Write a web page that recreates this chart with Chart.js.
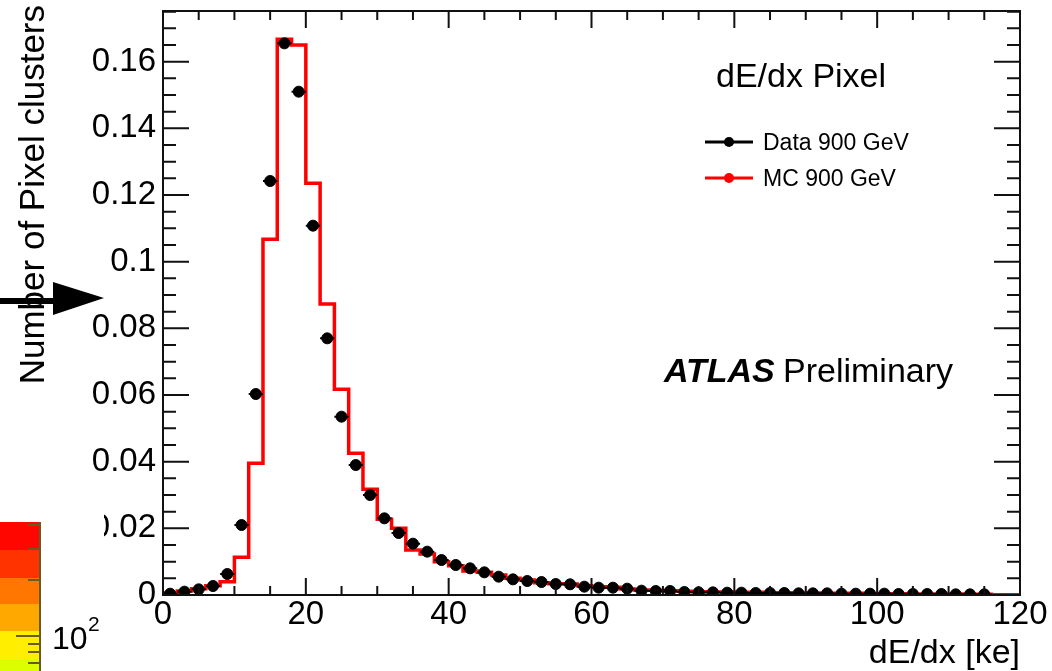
<!DOCTYPE html>
<html>
<head>
<meta charset="utf-8">
<title>dE/dx Pixel</title>
<script src="https://cdn.jsdelivr.net/npm/chart.js@4/dist/chart.umd.min.js"></script>
<style>
    html, body { margin: 0; padding: 0; background: #fff; }
    #wrap { width: 1052px; height: 671px; }
</style>
</head>
<body>
<div id="wrap"><canvas id="chart" width="1052" height="671"></canvas></div>
<script>
const FONT = "'Liberation Sans', Arial, Helvetica, sans-serif";

// histogram binning in ke
const binWidth = 2;

// normalised cluster counts per 2 ke bin, starting at 0 ke
const dataValues = [
    0.0004, 0.0010, 0.0017, 0.0027, 0.0063, 0.0210, 0.0603, 0.1242, 0.1655, 0.1510,
    0.1108, 0.0770, 0.0535, 0.0390, 0.0300, 0.0230, 0.0186, 0.0154, 0.0130, 0.0105,
    0.0090, 0.0080, 0.0068, 0.0055, 0.0047, 0.0042, 0.0039, 0.0033, 0.0032, 0.0025,
    0.0022, 0.0022, 0.0019, 0.0013, 0.0012, 0.0012, 0.0009, 0.0008, 0.0008, 0.0007,
    0.0007, 0.0006, 0.0006, 0.0006, 0.0005, 0.0005, 0.0005, 0.0004, 0.0004, 0.0004,
    0.0004, 0.0003, 0.0003, 0.0003, 0.0003, 0.0002, 0.0002, 0.0002
];

const mcValues = [
    0.0006, 0.0012, 0.0019, 0.0028, 0.0040, 0.0113, 0.0395, 0.1067, 0.1667, 0.1650,
    0.1235, 0.0873, 0.0617, 0.0425, 0.0317, 0.0227, 0.0200, 0.0135, 0.0123, 0.0100,
    0.0088, 0.0072, 0.0068, 0.0060, 0.0050, 0.0045, 0.0037, 0.0034, 0.0033, 0.0028,
    0.0025, 0.0023, 0.0018, 0.0015, 0.0014, 0.0013, 0.0011, 0.0010, 0.0009, 0.0009,
    0.0008, 0.0008, 0.0007, 0.0007, 0.0006, 0.0006, 0.0005, 0.0005, 0.0005, 0.0004,
    0.0004, 0.0004, 0.0003, 0.0003, 0.0003, 0.0003, 0.0002, 0.0002, 0.0001, 0.0001
];

const xTicks = [0, 20, 40, 60, 80, 100, 120];
const xTickLabels = ['0', '20', '40', '60', '80', '100', '120'];
const yTicks = [0, 0.02, 0.04, 0.06, 0.08, 0.1, 0.12, 0.14, 0.16];
const yTickLabels = ['0', '0.02', '0.04', '0.06', '0.08', '0.1', '0.12', '0.14', '0.16'];

const xRange = [0, 120];
const yRange = [0, 0.1752];

// data points sit at bin centres
const dataPoints = dataValues.map((v, i) => ({ x: (i + 0.5) * binWidth, y: v }));

// step outline: rise from zero at the first edge, one point per bin low edge, close at the last edge
const mcPoints = [{ x: 0, y: 0 }]
    .concat(mcValues.map((v, i) => ({ x: i * binWidth, y: v })))
    .concat([{ x: mcValues.length * binWidth, y: 0 }]);

// horizontal error bars (bin width) under the data markers
const errorBars = {
    id: 'errorBars',
    beforeDatasetDraw(chart, args) {
        if (args.index !== 0) return;
        const { ctx, scales: { x, y } } = chart;
        ctx.save();
        ctx.strokeStyle = '#000';
        ctx.lineWidth = 2;
        ctx.beginPath();
        for (const p of chart.data.datasets[0].data) {
            const py = y.getPixelForValue(p.y);
            ctx.moveTo(x.getPixelForValue(p.x - binWidth / 2), py);
            ctx.lineTo(x.getPixelForValue(p.x + binWidth / 2), py);
        }
        ctx.stroke();
        ctx.restore();
    }
};

// ROOT style frame with inward ticks on all four sides
const frame = {
    id: 'frame',
    beforeDraw(chart) {
        const ctx = chart.ctx;
        ctx.save();
        ctx.fillStyle = '#fff';
        ctx.fillRect(0, 0, chart.width, chart.height);
        ctx.restore();
    },
    afterDatasetsDraw(chart) {
        const { ctx, chartArea: a, scales: { x, y } } = chart;
        const xMajor = 17, xMinor = 9, yMajor = 26, yMinor = 13;
        ctx.save();
        ctx.strokeStyle = '#111';
        ctx.lineWidth = 2;
        ctx.beginPath();
        for (let v = xRange[0]; v <= xRange[1]; v += 5) {
            const px = x.getPixelForValue(v);
            const len = v % 20 === 0 ? xMajor : xMinor;
            ctx.moveTo(px, a.bottom); ctx.lineTo(px, a.bottom - len);
            ctx.moveTo(px, a.top); ctx.lineTo(px, a.top + len);
        }
        for (let k = 0; k * 0.005 <= yRange[1]; k++) {
            const py = y.getPixelForValue(k * 0.005);
            const len = k % 4 === 0 ? yMajor : yMinor;
            ctx.moveTo(a.left, py); ctx.lineTo(a.left + len, py);
            ctx.moveTo(a.right, py); ctx.lineTo(a.right - len, py);
        }
        ctx.stroke();
        ctx.strokeRect(a.left, a.top, a.right - a.left, a.bottom - a.top);
        ctx.restore();
    }
};

// titles, legend, labels and the neighbouring panel fragments on the left
const annotations = {
    id: 'annotations',
    afterDraw(chart) {
        const { ctx, chartArea: a } = chart;
        ctx.save();
        ctx.fillStyle = '#000';
        ctx.textBaseline = 'alphabetic';

        // axis titles
        ctx.font = `34px ${FONT}`;
        ctx.textAlign = 'right';
        ctx.fillText('dE/dx [ke]', a.right, 663);

        ctx.save();
        ctx.translate(44, 5);
        ctx.rotate(-Math.PI / 2);
        ctx.font = `35px ${FONT}`;
        ctx.textAlign = 'right';
        ctx.fillText('Number of Pixel clusters', 0, 0);
        ctx.restore();

        // legend header and entries
        ctx.textAlign = 'left';
        ctx.font = `34px ${FONT}`;
        ctx.fillText('dE/dx Pixel', 716, 87);

        ctx.font = `23px ${FONT}`;
        const rows = [142, 178];
        chart.data.datasets.forEach((ds, i) => {
            const yy = rows[i];
            ctx.strokeStyle = ds.legendColor;
            ctx.fillStyle = ds.legendColor;
            ctx.lineWidth = 3;
            ctx.beginPath();
            ctx.moveTo(705, yy); ctx.lineTo(753, yy);
            ctx.stroke();
            ctx.beginPath();
            ctx.arc(729, yy, 5, 0, Math.PI * 2);
            ctx.fill();
            ctx.fillStyle = '#000';
            ctx.fillText(ds.label, 763, yy + 8);
        });

        // experiment label
        ctx.font = `italic bold 34px ${FONT}`;
        ctx.fillText('ATLAS', 664, 382);
        ctx.font = `34px ${FONT}`;
        ctx.fillText('Preliminary', 783, 382);

        // neighbouring panel: white backdrop with a colour scale
        ctx.fillStyle = '#fff';
        ctx.fillRect(0, 512, 104, 159);
        const bands = ['#ff0600', '#ff3300', '#ff7600', '#ffa800', '#ffee00', '#dcff00'];
        const edges = [522, 550, 578, 604, 631, 659, 671];
        bands.forEach((c, i) => {
            ctx.fillStyle = c;
            ctx.fillRect(0, edges[i], 40, edges[i + 1] - edges[i]);
        });
        ctx.strokeStyle = '#6a5a20';
        ctx.lineWidth = 2;
        ctx.beginPath();
        ctx.moveTo(40, 522); ctx.lineTo(40, 671);
        [[525, 12], [549, 12], [580, 12], [636, 24], [644, 12], [652, 12], [663, 12]].forEach(([ty, len]) => {
            ctx.moveTo(40, ty); ctx.lineTo(40 - len, ty);
        });
        ctx.stroke();
        ctx.fillStyle = '#000';
        ctx.font = `32px ${FONT}`;
        ctx.fillText('10', 52, 649);
        ctx.font = `21px ${FONT}`;
        ctx.fillText('2', 88, 631);

        // pointer arrow
        ctx.fillStyle = '#000';
        ctx.fillRect(0, 298, 56, 6);
        ctx.beginPath();
        ctx.moveTo(53, 282);
        ctx.lineTo(104, 298);
        ctx.lineTo(53, 315);
        ctx.closePath();
        ctx.fill();

        ctx.restore();
    }
};

const ctx = document.getElementById('chart').getContext('2d');
new Chart(ctx, {
    type: 'scatter',
    data: {
        datasets: [{
            label: 'Data 900 GeV',
            data: dataPoints,
            legendColor: '#000',
            backgroundColor: '#000',
            borderColor: '#000',
            pointRadius: 5.5,
            pointHoverRadius: 5.5,
            showLine: false
        }, {
            label: 'MC 900 GeV',
            data: mcPoints,
            legendColor: '#ff0000',
            borderColor: '#ff0000',
            borderWidth: 3.5,
            pointRadius: 0,
            showLine: true,
            stepped: 'before',
            fill: false
        }]
    },
    options: {
        responsive: false,
        animation: false,
        events: [],
        layout: { padding: { top: 11, right: 32, left: 0, bottom: 0 } },
        plugins: {
            legend: { display: false },
            tooltip: { enabled: false }
        },
        scales: {
            x: {
                type: 'linear',
                min: xRange[0],
                max: xRange[1],
                afterBuildTicks: s => { s.ticks = xTicks.map(v => ({ value: v })); },
                afterFit: s => { s.height = 76; s.paddingLeft = 0; s.paddingRight = 0; },
                grid: { display: false, drawTicks: false },
                border: { display: false },
                ticks: {
                    font: { family: FONT, size: 33 },
                    color: '#000',
                    padding: 0,
                    maxRotation: 0,
                    autoSkip: false,
                    callback: (v, i) => xTickLabels[i]
                }
            },
            y: {
                type: 'linear',
                min: yRange[0],
                max: yRange[1],
                afterBuildTicks: s => { s.ticks = yTicks.map(v => ({ value: v })); },
                afterFit: s => { s.width = 163; s.paddingTop = 0; s.paddingBottom = 0; },
                grid: { display: false, drawTicks: false },
                border: { display: false },
                ticks: {
                    font: { family: FONT, size: 33 },
                    color: '#000',
                    padding: 7,
                    autoSkip: false,
                    callback: (v, i) => yTickLabels[i]
                }
            }
        }
    },
    plugins: [errorBars, frame, annotations]
});
</script>
</body>
</html>
